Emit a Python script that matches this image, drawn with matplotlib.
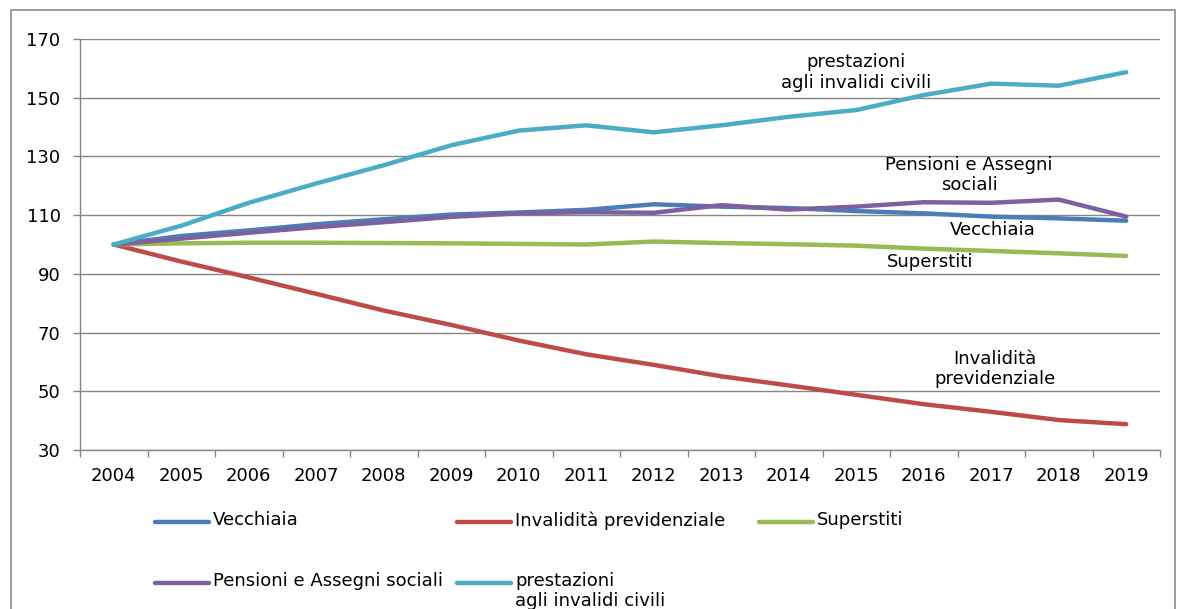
import numpy as np
import matplotlib
matplotlib.use('Agg')
import matplotlib.pyplot as plt
from matplotlib.lines import Line2D
from matplotlib.patches import Rectangle

# Index numbers, 2004 = 100
years = [str(y) for y in range(2004, 2020)]

vecchiaia = [100, 102.9, 104.8, 106.9, 108.6, 110.2, 110.9, 111.8, 113.7, 112.9,
             112.4, 111.4, 110.6, 109.5, 108.9, 108.1]
invalidita = [100, 94.2, 88.8, 83.2, 77.5, 72.6, 67.3, 62.6, 59.0, 55.1,
              52.0, 48.8, 45.6, 43.0, 40.2, 38.8]
superstiti = [100, 100.4, 100.6, 100.6, 100.5, 100.4, 100.2, 100.0, 101.0, 100.5,
              100.1, 99.6, 98.6, 97.8, 97.0, 96.1]
pensioni = [100, 102.0, 104.0, 105.9, 107.6, 109.4, 110.6, 111.0, 110.8, 113.4,
            111.9, 112.9, 114.4, 114.2, 115.3, 109.5]
prestazioni = [100, 106.4, 114.2, 120.8, 127.0, 133.8, 138.8, 140.6, 138.2, 140.6,
               143.5, 145.8, 150.9, 154.8, 154.1, 158.7]

series = [
    ("Vecchiaia", vecchiaia, "#4A7EBB"),
    ("Invalidità previdenziale", invalidita, "#BE4B48"),
    ("Superstiti", superstiti, "#98B954"),
    ("Pensioni e Assegni sociali", pensioni, "#7D60A0"),
    ("prestazioni\nagli invalidi civili", prestazioni, "#4BACC6"),
]

# in-plot labels: text, year index, value
annotations = [
    ("prestazioni\nagli invalidi civili", 11.0, 158.6),
    ("Pensioni e Assegni\nsociali", 12.67, 123.7),
    ("Vecchiaia", 13.02, 104.9),
    ("Superstiti", 12.09, 94.0),
    ("Invalidità\nprevidenziale", 13.06, 57.6),
]

W, H = 1177, 609
fig = plt.figure(figsize=(W / 100, H / 100), dpi=100)
plt.rcParams['font.family'] = ['DejaVu Sans']
fs = 13

# outer chart border
fig.add_artist(Rectangle((11 / W, -0.05), (1175 - 11) / W, (H - 10) / H + 0.05,
                         transform=fig.transFigure, fill=False, edgecolor='#8c8c8c', lw=1.2))

ax = fig.add_axes([80 / W, (H - 450) / H, 1080 / W, 411 / H])
x = np.arange(len(years))
for name, vals, col in series:
    ax.plot(x, vals, color=col, lw=3.2, solid_capstyle='round', solid_joinstyle='round')

ax.set_xlim(-0.5, len(years) - 0.5)
ax.set_ylim(30, 170)
ax.set_yticks(np.arange(30, 171, 20))
ax.set_xticks(x)
ax.set_xticklabels(years)
ax.set_xticks(np.arange(-0.5, len(years)), minor=True)
ax.tick_params(axis='x', which='major', length=0, pad=12.5, labelsize=fs)
ax.tick_params(axis='x', which='minor', length=5, color='#868686', width=1)
ax.tick_params(axis='y', length=5, color='#868686', width=1, pad=9, labelsize=fs)
ax.grid(axis='y', color='#868686', lw=1)
ax.set_axisbelow(True)
for s in ['top', 'right']:
    ax.spines[s].set_visible(False)
for s in ['left', 'bottom']:
    ax.spines[s].set_color('#868686')
    ax.spines[s].set_linewidth(1)

for txt, xi, yv in annotations:
    ax.text(xi, yv, txt, ha='center', va='center', fontsize=fs, linespacing=1.15)

# legend drawn by hand, Excel-style: two rows, three columns
cols_x = [155, 457, 759]
rows_y = [522, 583]
order = [(0, 0, 0), (1, 0, 1), (2, 0, 2), (3, 1, 0), (4, 1, 1)]
for i, r, c in order:
    name, vals, col = series[i]
    x0 = cols_x[c] / W
    y0 = 1 - rows_y[r] / H
    fig.add_artist(Line2D([x0, x0 + 54 / W], [y0, y0], transform=fig.transFigure,
                          color=col, lw=3.2, solid_capstyle='round'))
    fig.text(x0 + 58 / W, y0 + 11 / H, name, ha='left', va='top', fontsize=fs,
             linespacing=1.15)

fig.savefig('out.png', dpi=100)
